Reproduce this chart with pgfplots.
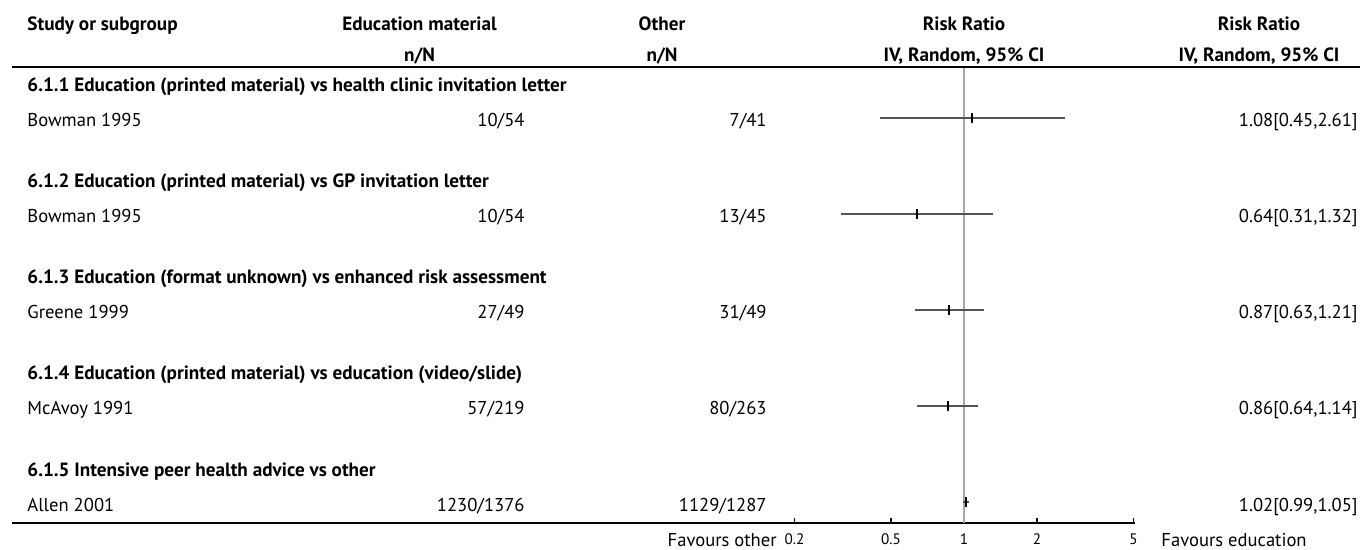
\documentclass[border=0pt]{standalone}
\usepackage{fontspec}
\setmainfont{PT Sans}
\usepackage{pgfplots}
\pgfplotsset{compat=1.18}
\definecolor{cigray}{HTML}{555555}
\definecolor{refgray}{HTML}{A6A6A6}

\newcommand{\tfont}{\fontsize{9.3}{11}\selectfont}
\newcommand{\hfont}{\fontsize{9.6}{11}\selectfont\bfseries}
\newcommand{\ticklab}[1]{\mbox{\fontsize{7.6}{8}\selectfont #1}}

\begin{document}
\begin{tikzpicture}
\path[use as bounding box] (0,0) rectangle (680pt,-275pt);

% forest plot panel: risk ratios on a log axis
\begin{axis}[
  at={(392.5pt,-261.5pt)}, anchor=south west,
  scale only axis, width=175pt, height=227.5pt,
  xmode=log, xmin=0.1827, xmax=5.073,
  ymin=-523, ymax=-68,
  axis x line*=bottom, axis y line=none,
  x axis line style={line width=0.9pt, black},
  xtick={0.2,0.5,1,2,5},
  xticklabels={\ticklab{0.2},\ticklab{0.5},\ticklab{1},\ticklab{2},\ticklab{5}},
  /pgf/number format/assume math mode=true,
  xminorticks=false,
  tick align=inside, major tick length=2.5pt,
  xtick style={black, line width=0.6pt},
  xticklabel style={anchor=base, yshift=-10.5pt},
  clip=false,
]
% line of no effect
\addplot[refgray, line width=0.6pt] coordinates {(1,-68) (1,-523)};
% 95% confidence intervals
\addplot[cigray, line width=0.85pt] coordinates {(0.45,-118) (2.61,-118)};
\addplot[cigray, line width=0.85pt] coordinates {(0.31,-214) (1.32,-214)};
\addplot[cigray, line width=0.85pt] coordinates {(0.63,-310) (1.21,-310)};
\addplot[cigray, line width=0.85pt] coordinates {(0.64,-406) (1.14,-406)};
\addplot[cigray, line width=0.85pt] coordinates {(0.99,-502) (1.05,-502)};
% point estimates
\addplot[only marks, mark=|, mark size=2.5pt, mark options={line width=1pt, black}]
  coordinates {(1.08,-118) (0.64,-214) (0.87,-310) (0.86,-406) (1.02,-502)};
\end{axis}

\begin{scope}[x=0.5pt, y=-0.5pt, every node/.style={inner sep=0pt, font=\tfont}]
% header
\node[anchor=base west] at (27,31) {\hfont Study or subgroup};
\node[anchor=base] at (419.5,31) {\hfont Education material};
\node[anchor=base] at (419.5,62) {\hfont n/N};
\node[anchor=base] at (662,31) {\hfont Other};
\node[anchor=base] at (662,62) {\hfont n/N};
\node[anchor=base] at (964,31) {\hfont Risk Ratio};
\node[anchor=base] at (964,62) {\hfont IV, Random, 95\% CI};
\node[anchor=base] at (1259,31) {\hfont Risk Ratio};
\node[anchor=base] at (1259,62) {\hfont IV, Random, 95\% CI};
\draw[line width=1pt] (12,67) -- (1360,67);

% subgroups and studies
\foreach \k/\head/\study/\a/\b/\res in {
  0/{6.1.1 Education (printed material) vs health clinic invitation letter}/{Bowman 1995}/{10/54}/{7/41}/{1.08[0.45,2.61]},
  1/{6.1.2 Education (printed material) vs GP invitation letter}/{Bowman 1995}/{10/54}/{13/45}/{0.64[0.31,1.32]},
  2/{6.1.3 Education (format unknown) vs enhanced risk assessment}/{Greene 1999}/{27/49}/{31/49}/{0.87[0.63,1.21]},
  3/{6.1.4 Education (printed material) vs education (video/slide)}/{McAvoy 1991}/{57/219}/{80/263}/{0.86[0.64,1.14]},
  4/{6.1.5 Intensive peer health advice vs other}/{Allen 2001}/{1230/1376}/{1129/1287}/{1.02[0.99,1.05]}}
{
  \pgfmathsetmacro{\yh}{92+96*\k}
  \pgfmathsetmacro{\ys}{127+96*\k}
  \node[anchor=base west] at (27,\yh) {\hfont\head};
  \node[anchor=base west] at (27,\ys) {\study};
  \node[anchor=base east] at (525,\ys) {\a};
  \node[anchor=base east] at (767,\ys) {\b};
  \node[anchor=base east] at (1358,\ys) {\res};
}

% footer
\draw[line width=1pt] (12,523) -- (788,523);
\node[anchor=base east] at (777,546) {Favours other};
\node[anchor=base west] at (1161,546) {Favours education};
\end{scope}
\end{tikzpicture}
\end{document}
